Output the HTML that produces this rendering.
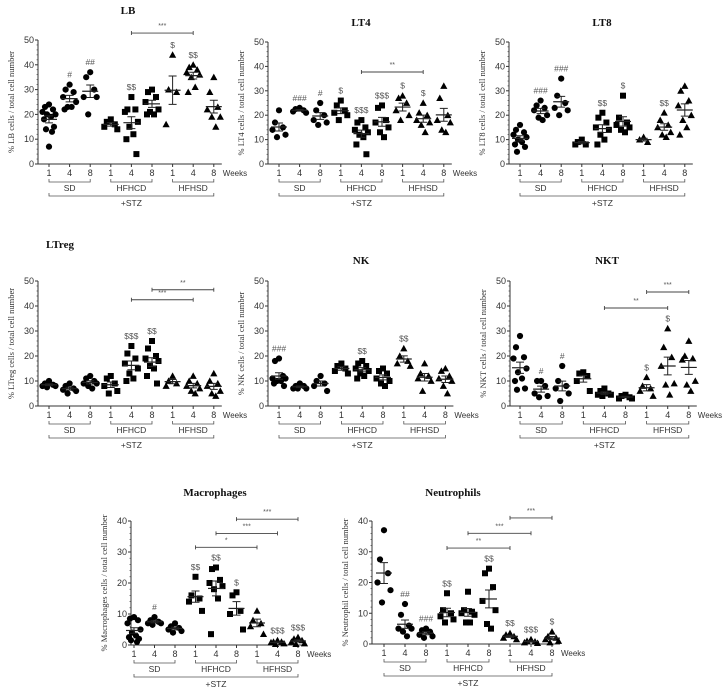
<!DOCTYPE html>
<html><head><meta charset="utf-8"><style>
html,body{margin:0;padding:0;background:#fff;}
svg{display:block;font-family:"Liberation Sans",sans-serif;}
.t{font-family:"Liberation Serif",serif;font-weight:bold;font-size:11px;fill:#111;}
</style></head><body>
<svg id="fig" width="723" height="689" viewBox="0 0 723 689" xmlns="http://www.w3.org/2000/svg"></svg>
<script>
const groupLabels = ["SD","HFHCD","HFHSD"];
const weekLabels = ["1","4","8","1","4","8","1","4","8"];

const lbData = [[24,23,22,21,20,20,19,18,15,14,13,7],[32,30,29,27,25,23,23,22],[37,35,30,27,27,20],[18,17,16,15,14],[27,22,22,21,17,15,12,10,4],[30,29,27,25,22,21,20,20],[44,30,29,16],[40,39,38,37,36,35,31,29],[35,29,23,22,19,19,15]];
const lbAnnot = ["","#","##","","$$","","$","$$",""];
const lbBrackets = [[4,7,52.8,"***"]];

const lt4Data = [[22,17,15,14,12,11],[23,22.5,22,21.5,21],[25,22,20,18,17,16],[26,24,22,21,20,18],[18,17,15,14,13,12,11,8,4],[24,23,18,17,15,13,11],[28,27,25,22,20,18],[25,21,20,18,17,16,13],[32,27,20,18,17,14,13]];
const lt4Annot = ["","###","#","$","$$$","$$$","$","$",""];
const lt4Brackets = [[4,7,37.7,"**"]];

const lt8Data = [[16,14,13,12,11,10,9,8,7,5],[26,24,23,22,20,19,18],[35,28,25,23,22,20],[10,9,8,8],[21,19,17,15,14,12,10,8],[28,19,17,16,15,14,13],[11,10,9],[21,18,16,15,13,12,11],[32,30,26,24,20,18,15,12]];
const lt8Annot = ["","###","###","","$$","$","","$$",""];
const lt8Brackets = [];

const ltregData = [[10,9,8.5,8,8,7.5],[9,8,7,6.5,6,5],[12,11,10,9,9,8,7],[12,11,9,8,6,5],[24,21,19,17,15,13,11,10],[26,23,20,19,18,16,15,12,9],[12,10,9,8],[12,10,9,8,7,6,5],[13,10,9,8,6,5,4]];
const ltregAnnot = ["","","","","$$$","$$","","",""];
const ltregBrackets = [[5,8,46.5,"**"],[4,7,42.5,"***"]];

const nkData = [[19,18,12,11,11,10,10,9,8],[9,8,8,7,7,7],[12,10,9,8,6],[17,16,15,14,13],[18,17,16,15,14,13,12,11],[15,14,13,11,10,9,8],[23,20,18,17,16],[17,13,12,11,10,6],[15,14,12,11,10,8,5]];
const nkAnnot = ["###","","","","$$","","$$","",""];
const nkBrackets = [];

const nktData = [[28,23.5,19.5,19,15,13.5,11,10,7,6.5],[10,10,8,5,4,3.5],[16,10,8,7,5,2],[13.5,13,12,10,6],[7,6,5,4.5,4.5,4],[4.5,4,3.5,3,3],[11.5,8,7,6,4],[31,23.5,19.5,16,9,8.5,4.5],[26,20,19,18.5,10,8.5,6]];
const nktAnnot = ["","#","#","","","","$","$",""];
const nktBrackets = [[6,8,45.6,"***"],[4,7,39.2,"**"]];

const macData = [[9,8.5,8,7,5,4,3,2.5,2,1.5,1],[9,8,7.5,7,7,6.5],[7,6,5.5,5,4.5,4],[22,16,15,14,11],[25,24.5,21,20,19,18,15,3.5],[17,16,11,10,5],[11,8,7,6,3.5],[1.5,1,1,0.8,0.5,0.3],[2.5,2,1.5,1,0.5,0.3]];
const macAnnot = ["","#","","$$","$$","$","","$$$","$$$"];
const macBrackets = [[5,8,40.6,"***"],[4,7,36,"***"],[3,6,31.5,"*"]];

const neuData = [[37,27.5,23,20,17.5,13.5],[13,9.5,6,5,5,4,2.5],[5,4.5,4,3,2.5,2],[16.5,11,10,9,8,7],[17,11,10.5,10,9.5,7,7],[24.5,23,18.5,14,11,6.5,5],[3.5,3,2.5,2,1.5],[1.5,1,0.8,0.5,0.3],[4,2.5,2,1.5,1,0.5]];
const neuAnnot = ["","##","###","$$","","$$","$$","$$$","$"];
const neuBrackets = [[6,8,41,"***"],[4,7,36,"***"],[3,6,31.2,"**"]];

const yTicks50 = [0,10,20,30,40,50];
const yTicks40 = [0,10,20,30,40];

const panels = [
 {name:"lb",title:"LB",ylab:"% LB cells / total cell number",data:lbData,annot:lbAnnot,br:lbBrackets,ax:38,c0:49,sp:20.6,yTop:40,yBot:164,ymax:50,ticks:yTicks50,tx:128,ty:14},
 {name:"lt4",title:"LT4",ylab:"% LT4 cells / total cell number",data:lt4Data,annot:lt4Annot,br:lt4Brackets,ax:268,c0:279,sp:20.6,yTop:42,yBot:164,ymax:50,ticks:yTicks50,tx:361,ty:26},
 {name:"lt8",title:"LT8",ylab:"% LT8 cells / total cell number",data:lt8Data,annot:lt8Annot,br:lt8Brackets,ax:509,c0:520,sp:20.6,yTop:42,yBot:164,ymax:50,ticks:yTicks50,tx:602,ty:26},
 {name:"ltreg",title:"LTreg",ylab:"% LTreg cells / total cell number",data:ltregData,annot:ltregAnnot,br:ltregBrackets,ax:38,c0:49,sp:20.6,yTop:281,yBot:406,ymax:50,ticks:yTicks50,tx:60,ty:248},
 {name:"nk",title:"NK",ylab:"% NK cells / total cell number",data:nkData,annot:nkAnnot,br:nkBrackets,ax:268,c0:279,sp:20.8,yTop:281,yBot:406,ymax:50,ticks:yTicks50,tx:361,ty:264},
 {name:"nkt",title:"NKT",ylab:"% NKT cells / total cell number",data:nktData,annot:nktAnnot,br:nktBrackets,ax:510,c0:520,sp:21.1,yTop:281,yBot:406,ymax:50,ticks:yTicks50,tx:607,ty:264},
 {name:"macrophages",title:"Macrophages",ylab:"% Macrophages cells / total cell number",data:macData,annot:macAnnot,br:macBrackets,ax:131,c0:134,sp:20.5,yTop:521,yBot:645,ymax:40,ticks:yTicks40,tx:215,ty:496},
 {name:"neutrophils",title:"Neutrophils",ylab:"% Neutrophil cells / total cell number",data:neuData,annot:neuAnnot,br:neuBrackets,ax:372,c0:384,sp:21,yTop:521,yBot:644,ymax:40,ticks:yTicks40,tx:453,ty:496}
];

const NS="http://www.w3.org/2000/svg";
const svg=document.getElementById('fig');
function mk(tag,attrs,parent,txt){const e=document.createElementNS(NS,tag);for(const k in attrs)e.setAttribute(k,attrs[k]);if(txt!==undefined)e.textContent=txt;(parent||svg).appendChild(e);return e;}
const jit=[0,-4,4,-6.5,6.5,-2,2,-5,5,-3,3,0];

panels.forEach(p=>{
  const g=mk('g',{});
  
  
  const y=v=>p.yBot-(v/p.ymax)*(p.yBot-p.yTop);
  const x=i=>p.c0+i*p.sp;
  const t=mk('text',{x:p.tx,y:p.ty,'text-anchor':'middle',class:'t'},g,p.title);
  
  
  const xr=x(8)+8;
  const ya=mk('line',{x1:p.ax,y1:p.yTop,x2:p.ax,y2:p.yBot,stroke:'#333','stroke-width':1},g);
  
  
  const xa=mk('line',{x1:p.ax,y1:p.yBot,x2:xr,y2:p.yBot,stroke:'#333','stroke-width':1},g);
  
  
  p.ticks.forEach(v=>{
    mk('line',{x1:p.ax-3,y1:y(v),x2:p.ax,y2:y(v),stroke:'#333'},g);
    for(let m=1;m<5;m++){const mv=v+m*2;if(mv<=p.ymax)mk('line',{x1:p.ax-1.5,y1:y(mv),x2:p.ax,y2:y(mv),stroke:'#333','stroke-width':0.6},g);}
    const tl=mk('text',{x:p.ax-4,y:y(v)+3,'text-anchor':'end','font-size':9,fill:'#333'},g,String(v));
    
    
  });
  const cy=(p.yTop+p.yBot)/2, lx=p.ax-24;
  const yl=mk('text',{x:lx,y:cy,'text-anchor':'middle','font-size':8.5,fill:'#333',transform:`rotate(-90 ${lx} ${cy})`,'font-family':'Liberation Serif, serif'},g,p.ylab);
  
  
  weekLabels.forEach((w,i)=>{
    mk('line',{x1:x(i),y1:p.yBot,x2:x(i),y2:p.yBot+3,stroke:'#333'},g);
    const wl=mk('text',{x:x(i),y:p.yBot+12,'text-anchor':'middle','font-size':9,fill:'#333'},g,w);
    
    
  });
  if(p.name!=='lt8'){const wk=mk('text',{x:x(8)+9,y:p.yBot+12,'font-size':8,fill:'#333'},g,'Weeks');
    
    }
  const gb=p.yBot+18;
  groupLabels.forEach((gl,k)=>{
    const a=x(3*k),b=x(3*k+2);
    mk('path',{d:`M${a} ${gb-3}V${gb}H${b}V${gb-3}`,fill:'none',stroke:'#555','stroke-width':0.8},g);
    const gt=mk('text',{x:(a+b)/2,y:gb+9,'text-anchor':'middle','font-size':8.5,fill:'#333'},g,gl);
    
    
  });
  const sb=gb+14;
  mk('path',{d:`M${x(0)} ${sb-3}V${sb}H${x(8)}V${sb-3}`,fill:'none',stroke:'#555','stroke-width':0.8},g);
  const st=mk('text',{x:(x(0)+x(8))/2,y:sb+10,'text-anchor':'middle','font-size':8.5,fill:'#333'},g,'+STZ');
  
  
  p.data.forEach((vals,i)=>{
    const shape=i<3?'c':(i<6?'s':'t');
    const n=vals.length;
    vals.forEach((v,j)=>{
      const px=x(i)+jit[j%jit.length], py=y(v);
      let m;
      if(shape==='c')m=mk('circle',{cx:px,cy:py,r:3.1,fill:'#000'},g);
      else if(shape==='s')m=mk('rect',{x:px-3,y:py-3,width:6,height:6,fill:'#000'},g);
      else m=mk('path',{d:`M${px} ${py-3.6}L${px+3.6} ${py+2.9}L${px-3.6} ${py+2.9}Z`,fill:'#000'},g);
      
      
    });
    const mean=vals.reduce((a,b)=>a+b,0)/n;
    const sd=Math.sqrt(vals.reduce((a,b)=>a+(b-mean)*(b-mean),0)/Math.max(1,n-1));
    const sem=sd/Math.sqrt(n);
    const ml=mk('line',{x1:x(i)-8,y1:y(mean),x2:x(i)+8,y2:y(mean),stroke:'#222','stroke-width':1.2},g);
    
    
    mk('path',{d:`M${x(i)} ${y(mean-sem)}V${y(mean+sem)}M${x(i)-4} ${y(mean+sem)}H${x(i)+4}M${x(i)-4} ${y(mean-sem)}H${x(i)+4}`,fill:'none',stroke:'#222','stroke-width':1},g);
    if(p.annot[i]){
      const mx=Math.max(...vals);
      const an=mk('text',{x:x(i),y:y(mx)-7,'text-anchor':'middle','font-size':8.5,fill:'#555'},g,p.annot[i]);
      
      
    }
  });
  p.br.forEach(b=>{
    const by=y(b[2]);
    mk('path',{d:`M${x(b[0])} ${by-2}V${by+2}M${x(b[0])} ${by}H${x(b[1])}M${x(b[1])} ${by-2}V${by+2}`,fill:'none',stroke:'#444','stroke-width':0.9},g);
    const bt=mk('text',{x:(x(b[0])+x(b[1]))/2,y:by-5,'text-anchor':'middle','font-size':7,fill:'#555'},g,b[3]);
    
    
  });
});
</script>
</body></html>
